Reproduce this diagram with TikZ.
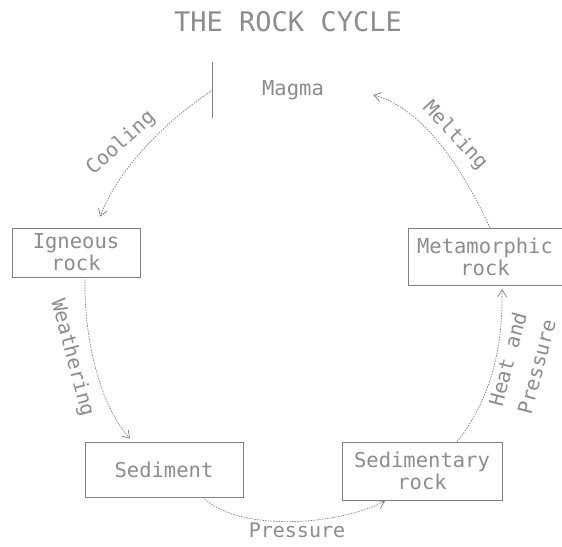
\documentclass[tikz,border=0pt]{standalone}
\usepackage{fontspec}
\newfontfamily\plotfont{DejaVu Sans Mono}
\usetikzlibrary{arrows.meta}
\definecolor{ink}{gray}{0.55}
\definecolor{lineink}{gray}{0.5}
\tikzset{
  lbl/.style={text=ink, font=\plotfont\fontsize{20}{22}\selectfont, inner sep=0pt},
  rockbox/.style={draw=lineink, line width=0.6pt, align=center, inner sep=0pt,
    text=ink, font=\plotfont\fontsize{20.5}{22}\selectfont},
  flow/.style={draw=lineink, line width=0.7pt, dash pattern=on 1.5pt off 1.2pt,
    -{Straight Barb[length=7pt,width=9pt]}},
}
\begin{document}
\begin{tikzpicture}[x=1pt,y=-1pt]
\useasboundingbox (0,0) rectangle (562,546);

\node[lbl, font=\plotfont\fontsize{27}{30}\selectfont] (title) at (288,22) {THE ROCK CYCLE};

\node[rockbox, draw=none, minimum width=160, minimum height=56] (magma) at (293,90) {Magma};
\draw[lineink, line width=0.6pt] (magma.north west) -- (magma.south west);

\node[rockbox, minimum width=128, minimum height=49] (igneous) at (76,252.5) {Igneous\\rock};
\node[rockbox, minimum width=158, minimum height=55] (sediment) at (164,469.5) {Sediment};
\node[rockbox, minimum width=160, minimum height=58] (sedimentary) at (422,471) {Sedimentary\\rock};
\node[rockbox, minimum width=154, minimum height=57] (metamorphic) at (485,256.5) {Metamorphic\\rock};

% Cooling
\draw[flow] (magma.west) .. controls (170,118) and (120,165) .. ([shift={(24,-11)}]igneous.north);
\node[lbl, rotate=42] (cooling) at (121,143) {Cooling};

% Weathering
\draw[flow] ([shift={(9,2)}]igneous.south) .. controls (84,340) and (100,405) .. ([shift={(-34,-3)}]sediment.north);
\node[lbl, rotate=-75] (weathering) at (72,358) {Weathering};

% Pressure
\draw[flow] ([shift={(39,0)}]sediment.south) .. controls (235,530) and (330,528) .. ([shift={(-37,1)}]sedimentary.south);
\node[lbl] (pressure) at (297,530) {Pressure};

% Heat and Pressure
\draw[flow] ([shift={(35,0)}]sedimentary.north) .. controls (490,400) and (503,350) .. ([shift={(17,4)}]metamorphic.south);
\node[lbl, rotate=75, align=center, font=\plotfont\fontsize{20}{30}\selectfont] (heat) at (522,363) {Heat and\\Pressure};

% Melting
\draw[flow] ([shift={(5,0)}]metamorphic.north) .. controls (470,185) and (430,110) .. ([shift={(0,5)}]magma.east);
\node[lbl, rotate=-47] (melting) at (455,136) {Melting};
\end{tikzpicture}
\end{document}
